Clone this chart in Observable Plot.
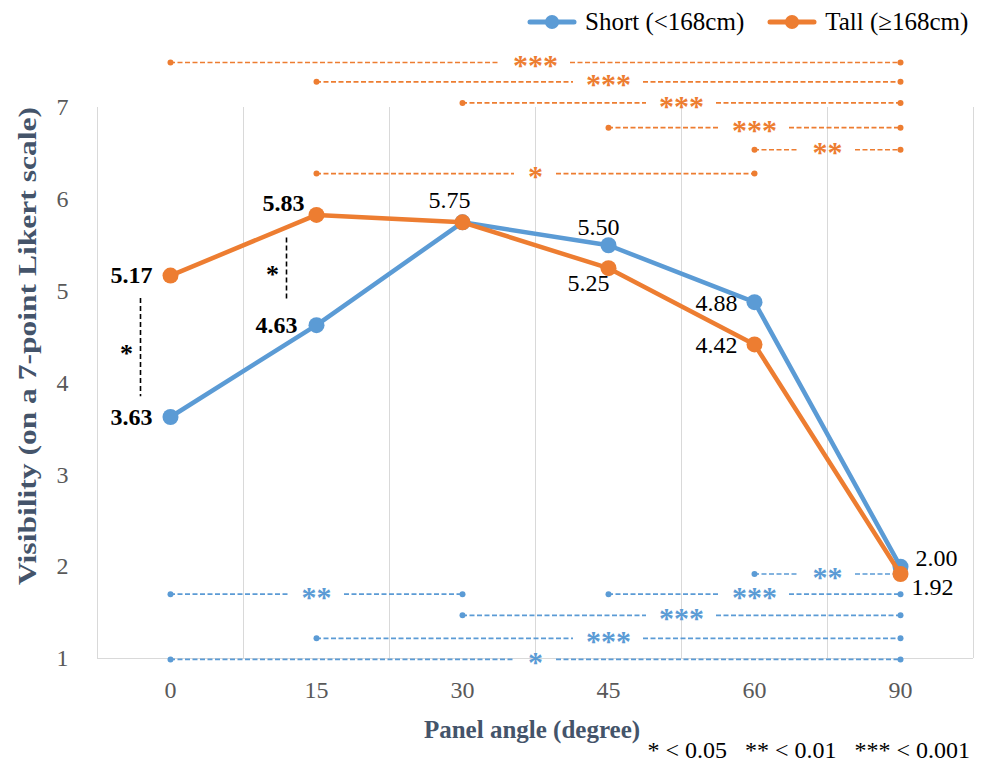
<!DOCTYPE html>
<html>
<head>
<meta charset="utf-8">
<script src="https://cdn.jsdelivr.net/npm/d3@7"></script>
<script src="https://cdn.jsdelivr.net/npm/@observablehq/plot@0.6"></script>
<style>
  body { margin: 0; background: white; }
  #wrap { position: relative; width: 981px; height: 772px; font-family: "Liberation Serif", "Times New Roman", serif; }
  .abs { position: absolute; white-space: nowrap; }
  .title { font-weight: bold; color: #44546A; font-size: 25px; }
</style>
</head>
<body>
<div id="wrap">
  <div id="chart"></div>
  <div id="legend" class="abs" style="left:526px; top:7px; font-size:25px; color:#000; display:flex; align-items:center;"></div>
  <div class="abs title" style="left:532px; top:730px; transform:translate(-50%,-50%);">Panel angle (degree)</div>
  <svg class="abs" style="left:0px; top:0px; overflow:visible;" width="60" height="772">
    <text x="0" y="0" transform="translate(36,346) rotate(-90)" text-anchor="middle"
      textLength="478" lengthAdjust="spacingAndGlyphs"
      style="font-family:'Liberation Serif','Times New Roman',serif; font-weight:bold; font-size:26px; fill:#44546A;">Visibility (on a 7-point Likert scale)</text>
  </svg>
  <div class="abs" style="right:11px; top:737px; font-size:24px; color:#000;">*&nbsp;&lt;&nbsp;0.05&nbsp;&nbsp;&nbsp;**&nbsp;&lt;&nbsp;0.01&nbsp;&nbsp;&nbsp;***&nbsp;&lt;&nbsp;0.001</div>
</div>
<script>
// ---- data ----
const angles = ["0", "15", "30", "45", "60", "90"];
const seriesNames = ["Short (<168cm)", "Tall (\u2265168cm)"];
const yTicks = [1, 2, 3, 4, 5, 6, 7];
const shortVals = [3.63, 4.63, 5.75, 5.50, 4.88, 2.00];
const tallVals  = [5.17, 5.83, 5.75, 5.25, 4.42, 1.92];

// significance brackets within each group: [fromIndex, toIndex, label, yLevel]
const tallPairs = [
  [0, 5, "***", 7.49],
  [1, 5, "***", 7.28],
  [2, 5, "***", 7.05],
  [3, 5, "***", 6.78],
  [4, 5, "**", 6.54],
  [1, 4, "*", 6.28]
];
const shortPairs = [
  [4, 5, "**", 1.92],
  [0, 2, "**", 1.70],
  [3, 5, "***", 1.70],
  [2, 5, "***", 1.47],
  [1, 5, "***", 1.22],
  [0, 5, "*", 0.99]
];
// between-group significance at an angle: [index, yTop, yBottom, label]
const groupPairs = [
  [0, 4.92, 3.85, "*"],
  [1, 5.58, 4.90, "*"]
];

// ---- label placement (style) ----
const shortLabelPos = [
  {anchor: "end", dx: -18, dy: 0, bold: true},
  {anchor: "end", dx: -19, dy: 0, bold: true},
  {anchor: "middle", dx: -13, dy: -22, bold: false},
  {anchor: "middle", dx: -10, dy: -18, bold: false},
  {anchor: "end", dx: -17, dy: 1, bold: false},
  {anchor: "start", dx: 15, dy: -8, bold: false}
];
const tallLabelPos = [
  {anchor: "end", dx: -18, dy: 0, bold: true},
  {anchor: "end", dx: -12, dy: -12, bold: true},
  null,
  {anchor: "middle", dx: -20, dy: 15, bold: false},
  {anchor: "end", dx: -17, dy: 1, bold: false},
  {anchor: "start", dx: 11, dy: 13, bold: false}
];

const BLUE = "#5B9BD5", ORANGE = "#ED7D31";
const W = 981, H = 772, ML = 97, MR = 8, MT = 107, MB = 114;
const bandPx = (W - ML - MR) / angles.length;

const shortData = shortVals.map((v, i) => ({i, v, pos: shortLabelPos[i]}));
const tallData = tallVals.map((v, i) => ({i, v, pos: tallLabelPos[i]}));

function toBr(p) {
  const [a, b, label, y] = p;
  const mid = (a + b) / 2;
  const gap = (14 + 7 * label.length) / bandPx;
  return {a, b, label, y, mid, l: mid - gap, r: mid + gap};
}
const tallBr = tallPairs.map(toBr);
const shortBr = shortPairs.map(toBr);
const grp = groupPairs.map(([i, y1, y2, label]) => ({i, y1, y2, label, ym: (y1 + y2) / 2}));

function bracketMarks(br, color) {
  const dash = {stroke: color, strokeWidth: 1.7, strokeDasharray: "5,2.5"};
  return [
    Plot.ruleY(br, {y: "y", x1: "a", x2: "l", ...dash}),
    Plot.ruleY(br, {y: "y", x1: "r", x2: "b", ...dash}),
    Plot.dot(br, {x: "a", y: "y", r: 3, fill: color}),
    Plot.dot(br, {x: "b", y: "y", r: 3, fill: color}),
    Plot.text(br, {x: "mid", y: "y", text: "label", fill: color, fontWeight: "bold", fontSize: 30, dy: 3, textAnchor: "middle"})
  ];
}

function labelMarks(data) {
  const out = [];
  for (const anchor of ["start", "middle", "end"]) {
    for (const bold of [true, false]) {
      const d = data.filter(r => r.pos && r.pos.anchor === anchor && r.pos.bold === bold);
      if (!d.length) continue;
      out.push(Plot.text(d, {
        x: "i", y: "v", text: r => r.v.toFixed(2),
        textAnchor: anchor, fontWeight: bold ? "bold" : "normal", fontSize: 24, fill: "#000",
        render(index, scales, values, dims, ctx, next) {
          const g = next(index, scales, values, dims, ctx);
          d3.select(g).selectAll("text").each(function(_, k) {
            const r = d[index[k]];
            const t = d3.select(this);
            const tr = t.attr("transform") || "";
            t.attr("transform", tr + ` translate(${r.pos.dx},${r.pos.dy})`);
          });
          return g;
        }
      }));
    }
  }
  return out;
}

const chart = Plot.plot({
  width: W, height: H,
  marginLeft: ML, marginRight: MR, marginTop: MT, marginBottom: MB,
  style: {fontFamily: "'Liberation Serif', 'Times New Roman', serif", fontSize: "24px", background: "white", overflow: "visible"},
  x: {domain: [-0.5, angles.length - 0.5]},
  y: {domain: [1, 7]},
  marks: [
    Plot.gridX(d3.range(angles.length).map(k => k + 0.5), {stroke: "#D9D9D9", strokeOpacity: 1, strokeWidth: 1}),
    Plot.ruleX([-0.5], {stroke: "#D9D9D9"}),
    Plot.ruleY([1], {stroke: "#D9D9D9"}),
    Plot.axisX(d3.range(angles.length), {tickFormat: k => angles[k], tickSize: 0, tickPadding: 22, fontSize: 24, color: "#595959", label: null}),
    Plot.axisY(yTicks, {tickFormat: d => String(d), tickSize: 0, tickPadding: 29, fontSize: 24, color: "#595959", label: null}),
    ...bracketMarks(tallBr, ORANGE),
    ...bracketMarks(shortBr, BLUE),
    Plot.ruleX(grp, {x: "i", dx: -30, y1: "y1", y2: "y2", stroke: "#000", strokeWidth: 1.6, strokeDasharray: "5,3"}),
    Plot.text(grp, {x: "i", dx: -44, y: "ym", text: "label", fontWeight: "bold", fontSize: 26, dy: 6, fill: "#000"}),
    Plot.line(shortData, {x: "i", y: "v", stroke: BLUE, strokeWidth: 4.5}),
    Plot.dot(shortData, {x: "i", y: "v", r: 8, fill: BLUE}),
    Plot.line(tallData, {x: "i", y: "v", stroke: ORANGE, strokeWidth: 4.5}),
    Plot.dot(tallData, {x: "i", y: "v", r: 8, fill: ORANGE}),
    ...labelMarks(shortData),
    ...labelMarks(tallData)
  ]
});
document.getElementById("chart").appendChild(chart);

// legend
const legend = d3.select("#legend");
[[seriesNames[0], BLUE], [seriesNames[1], ORANGE]].forEach(([name, color], k) => {
  const item = legend.append("span").style("display", "inline-flex").style("align-items", "center")
    .style("margin-right", k === 0 ? "22px" : "0px");
  const svg = item.append("svg").attr("width", 52).attr("height", 30).style("margin-right", "7px");
  svg.append("line").attr("x1", 4).attr("x2", 48).attr("y1", 15).attr("y2", 15)
    .attr("stroke", color).attr("stroke-width", 5).attr("stroke-linecap", "round");
  svg.append("circle").attr("cx", 26).attr("cy", 15).attr("r", 7).attr("fill", color);
  item.append("span").text(name);
});
</script>
</body>
</html>
